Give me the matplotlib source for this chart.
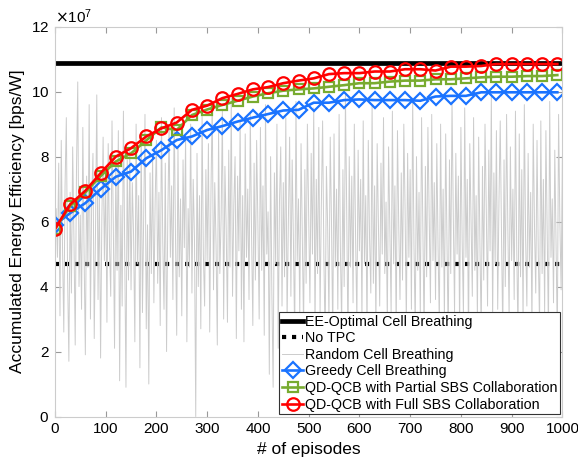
import numpy as np
import matplotlib
matplotlib.use("Agg")
import matplotlib.pyplot as plt
from matplotlib.ticker import ScalarFormatter

plt.rcParams['font.family'] = ['Liberation Sans', 'DejaVu Sans']

# Episodes where the markers sit (every 30 episodes)
marker_eps = np.arange(0, 1000, 30)

# Accumulated EE (x1e7) at the marker positions
greedy = [5.90, 6.26, 6.57, 7.00, 7.38, 7.54, 7.95, 8.20, 8.51, 8.62,
          8.82, 8.94, 9.08, 9.20, 9.31, 9.42, 9.44, 9.66, 9.66, 9.74,
          9.76, 9.74, 9.74, 9.74, 9.72, 9.85, 9.87, 9.87, 9.98, 9.98,
          9.98, 9.98, 9.98, 9.98]
partial = [5.77, 6.48, 6.90, 7.40, 7.85, 8.10, 8.50, 8.90, 8.82, 9.28,
           9.45, 9.59, 9.72, 9.85, 9.95, 10.03, 10.07, 10.10, 10.15, 10.20,
           10.26, 10.26, 10.31, 10.34, 10.34, 10.38, 10.38, 10.41, 10.44, 10.46,
           10.46, 10.48, 10.48, 10.51]
full = [5.77, 6.53, 6.95, 7.49, 8.00, 8.26, 8.62, 8.87, 9.05, 9.44,
        9.57, 9.80, 9.93, 10.07, 10.14, 10.26, 10.34, 10.41, 10.54, 10.57,
        10.57, 10.62, 10.62, 10.69, 10.69, 10.65, 10.77, 10.77, 10.79, 10.85,
        10.85, 10.85, 10.85, 10.85]

ee_optimal = 10.88
no_tpc = 4.69

# Random cell breathing, sampled every 2.5 episodes (x1e7)
random_eps = np.arange(0, 1000.1, 2.5)
random_cb = [
    5.8, 6.4, 4.9, 7.8, 3.1, 8.5, 5.2, 2.6, 7.1, 9.2, 4.3, 1.7, 6.9, 3.8, 8.3, 5.5, 2.2, 7.6, 10.3, 4.0,
    6.2, 3.3, 8.9, 5.0, 1.9, 7.4, 4.6, 9.6, 3.0, 6.7, 8.1, 2.4, 5.7, 9.9, 3.6, 7.0, 1.8, 6.1, 8.6, 4.8,
    7.3, 2.9, 8.4, 5.3, 3.7, 9.1, 6.0, 2.1, 7.7, 4.5, 8.8, 1.1, 6.5, 3.4, 9.4, 5.1, 0.9, 7.9, 4.2, 8.2,
    3.9, 7.2, 5.6, 2.3, 9.0, 4.7, 6.8, 1.5, 8.7, 3.2, 6.3, 9.3, 2.7, 5.9, 1.0, 7.5, 4.4, 8.0, 3.5, 6.6,
    8.5, 4.1, 6.9, 2.8, 9.2, 5.4, 3.3, 7.8, 2.0, 6.2, 8.9, 4.9, 7.1, 3.6, 9.5, 5.7, 2.5, 8.3, 4.3, 6.7,
    3.1, 7.9, 5.2, 8.6, 2.3, 6.4, 4.6, 9.0, 3.8, 7.3, 5.5, 0.0, 8.1, 4.0, 6.8, 2.7, 9.3, 5.0, 3.4, 7.6,
    4.8, 8.4, 2.6, 6.9, 9.7, 3.9, 7.2, 5.3, 2.2, 8.8, 4.4, 6.1, 9.4, 3.0, 7.7, 5.8, 2.9, 8.2, 4.6, 9.8,
    3.7, 6.5, 8.0, 2.4, 7.4, 5.1, 9.1, 3.3, 6.8, 2.3, 8.7, 4.9, 7.0, 3.6, 9.3, 5.6, 2.8, 7.8, 4.2, 8.5,
    5.9, 3.0, 8.9, 4.5, 7.1, 2.5, 9.6, 5.0, 6.3, 1.3, 8.0, 3.8, 0.9, 7.5, 4.7, 9.0, 2.1, 6.6, 8.3, 3.4,
    7.2, 4.3, 9.2, 2.9, 6.0, 8.6, 3.7, 7.9, 5.4, 2.4, 9.7, 4.8, 6.7, 3.1, 8.4, 5.6, 2.7, 7.6, 4.1, 9.0,
    6.2, 3.5, 8.1, 5.0, 9.5, 2.6, 7.3, 4.4, 8.9, 3.2, 6.5, 9.1, 4.9, 2.3, 7.7, 5.8, 3.0, 8.6, 6.0, 2.4,
    8.7, 4.6, 7.0, 3.3, 9.3, 5.2, 2.8, 7.6, 4.0, 9.9, 6.3, 2.2, 8.0, 4.6, 7.4, 3.5, 9.0, 5.5, 2.9, 8.2,
    5.1, 7.3, 3.0, 9.1, 4.7, 6.8, 2.6, 8.5, 5.5, 3.8, 9.6, 4.1, 7.1, 2.7, 8.4, 6.0, 3.4, 7.8, 5.0, 9.2,
    4.4, 6.6, 2.9, 8.3, 5.7, 3.2, 9.4, 4.7, 7.1, 2.5, 8.8, 5.9, 3.6, 7.5, 4.2, 9.0, 6.4, 2.8, 8.1, 4.9,
    7.6, 3.3, 9.8, 5.3, 2.7, 8.0, 4.5, 6.9, 3.1, 9.2, 5.8, 2.5, 7.7, 4.3, 8.9, 6.1, 3.5, 9.3, 4.8, 7.2,
    3.6, 8.4, 5.2, 2.8, 9.0, 4.6, 7.0, 3.0, 8.7, 5.6, 2.3, 7.9, 4.4, 9.7, 6.2, 3.2, 8.1, 5.0, 7.4, 2.6,
    8.9, 5.4, 3.1, 9.5, 4.9, 7.3, 2.2, 8.4, 6.0, 3.7, 9.2, 4.5, 6.8, 3.0, 8.6, 5.3, 2.6, 7.7, 4.2, 9.0,
    6.4, 3.4, 8.2, 5.1, 9.9, 2.9, 7.5, 4.7, 8.8, 3.3, 6.6, 9.1, 5.6, 2.5, 7.9, 4.0, 9.3, 5.8, 3.1, 8.3,
    4.8, 7.0, 3.6, 9.4, 5.2, 2.4, 8.7, 4.3, 7.6, 2.9, 9.6, 5.5, 3.4, 8.1, 4.6, 6.9, 2.7, 9.0, 5.9, 3.8,
    8.5, 5.0, 2.8, 9.1, 4.4, 7.3, 3.2, 8.8, 5.7, 2.6, 9.7, 4.9, 6.7, 3.5, 8.2, 5.3, 2.4, 9.3, 6.0, 3.9,
    8.0,
]

scale = 1e7
blue = (0.10, 0.45, 1.0)
green = (0.47, 0.67, 0.19)
red = (1.0, 0.0, 0.0)

fig = plt.figure(figsize=(5.78, 4.68), dpi=100)
ax = fig.add_axes([0.095, 0.11, 0.878, 0.833])

ax.plot([0, 1000], [ee_optimal * scale] * 2, color='black', lw=3.4,
        label='EE-Optimal Cell Breathing')
ax.plot([0, 1000], [no_tpc * scale] * 2, color='black', lw=3,
        linestyle=(0, (1, 1.4)), label='No TPC')
ax.plot(random_eps, np.array(random_cb) * scale, color=(0.8, 0.8, 0.8),
        lw=0.7, label='Random Cell Breathing')

mk = dict(lw=1.9, markersize=9, markeredgewidth=1.6, markerfacecolor='none')
ax.plot(marker_eps, np.array(greedy) * scale, color=blue, marker='D',
        label='Greedy Cell Breathing', **dict(mk, markersize=8))
ax.plot(marker_eps, np.array(partial) * scale, color=green, marker='s',
        label='QD-QCB with Partial SBS Collaboration', **dict(mk, markersize=7.5))
ax.plot(marker_eps, np.array(full) * scale, color=red, marker='o',
        label='QD-QCB with Full SBS Collaboration', **mk)

ax.set_xlim(0, 1000)
ax.set_ylim(0, 12e7)
ax.set_xticks(np.arange(0, 1001, 100))
ax.set_yticks(np.arange(0, 12.1e7, 2e7))

fmt = ScalarFormatter(useMathText=True)
fmt.set_powerlimits((7, 7))
ax.yaxis.set_major_formatter(fmt)
ax.yaxis.get_offset_text().set_fontsize(11)

ax.tick_params(direction='in', top=True, right=True, labelsize=11,
               color=(0.6, 0.6, 0.6), length=4, pad=4)
for s in ax.spines.values():
    s.set_color((0.8, 0.8, 0.8))
    s.set_linewidth(0.8)

ax.set_xlabel('# of episodes', fontsize=12.5)
ax.set_ylabel('Accumulated Energy Efficiency [bps/W]', fontsize=12.5)

leg = ax.legend(loc='lower right', fontsize=10.3, handlelength=1.5,
                handletextpad=0.1, borderpad=0.2, labelspacing=0.18,
                borderaxespad=0.15, fancybox=False, framealpha=1)
leg.get_frame().set_edgecolor((0.2, 0.2, 0.2))
leg.get_frame().set_linewidth(0.8)

fig.savefig('out.png', dpi=100)
